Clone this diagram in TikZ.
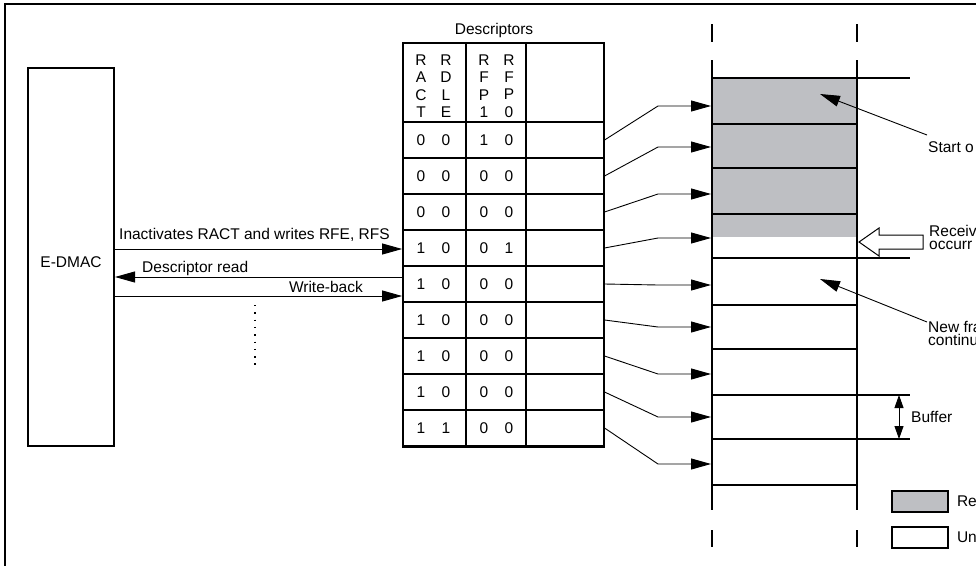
\documentclass[tikz,border=0pt]{standalone}
\usepackage{fontspec}
\setmainfont{Liberation Sans}
\usepackage{xcolor}
\usetikzlibrary{arrows.meta,positioning}
\definecolor{rxgray}{RGB}{190,191,195}

\begin{document}
\begin{tikzpicture}[x=1pt,y=-1pt,
      font=\fontsize{15.5}{17.4}\selectfont,
      outerframe/.style={line width=1.8pt},
      wall/.style={line width=2pt},
      thinrule/.style={line width=1.1pt},
      cell/.style={draw,thinrule,inner sep=0pt,minimum width=201pt,minimum height=36pt},
      bit/.style={inner sep=0pt},
      txt/.style={inner sep=0pt,anchor=base west},
      arrow/.style={-{Triangle[length=20pt,width=11pt]},line width=0.9pt},
      dblarrow/.style={{Triangle[length=13pt,width=9pt]}-{Triangle[length=13pt,width=9pt]},line width=0.9pt},
      keybox/.style={draw,line width=1.6pt,inner sep=0pt,minimum width=56pt,minimum height=21pt}]
    \useasboundingbox (0,0) rectangle (976,565);
    \draw[outerframe] (5,4) rectangle (1000,600);

    % E-DMAC side
    \node[draw,wall,minimum width=86pt,minimum height=378pt] (edmac) at (71,257) {};
    \node[txt,anchor=base] (edmaclbl) at (71,267) {E-DMAC};

    % descriptor table
    \foreach \n/\a/\b/\c/\d in {1/0/0/1/0,2/0/0/0/0,3/0/0/0/0,4/1/0/0/1,5/1/0/0/0,
                               6/1/0/0/0,7/1/0/0/0,8/1/0/0/0,9/1/1/0/0}{
      \node[cell] (row\n) at (503.5,{104+36*\n}) {};
      \node[bit] (row\n-1) at (421,{104+36*\n}) {\a};
      \node[bit] (row\n-2) at (446,{104+36*\n}) {\b};
      \node[bit] (row\n-3) at (484,{104+36*\n}) {\c};
      \node[bit] (row\n-4) at (509,{104+36*\n}) {\d};
    }
    \node[bit,align=center] (hdract) at (421,86) {R\\A\\C\\T};
    \node[bit,align=center] (hdrdle) at (446,86) {R\\D\\L\\E};
    \node[bit,align=center] (hdrfp1) at (484,86) {R\\F\\P\\1};
    \node[bit,align=center] (hdrfp0) at (509,86) {R\\F\\P\\0};
    \draw[thinrule] (466,43) -- (466,447);
    \draw[thinrule] (526,43) -- (526,447);
    \node[draw,outerframe,minimum width=201pt,minimum height=404pt] (desc) at (503.5,245) {};
    \node[txt,anchor=base] (desclbl) at (494,34) {Descriptors};

    % E-DMAC <-> descriptors
    \coordinate (inact) at (0,249);
    \coordinate (rdline) at (0,277);
    \coordinate (wbline) at (0,296);
    \draw[arrow] (edmac.east |- inact) -- (desc.west |- inact);
    \draw[arrow] (desc.west |- rdline) -- (edmac.east |- rdline);
    \draw[arrow] (edmac.east |- wbline) -- (desc.west |- wbline);
    \node[txt] (inactlbl) at (119,239) {Inactivates RACT and writes RFE, RFS};
    \node[txt] (rdlbl) at (142,272) {Descriptor read};
    \node[txt,anchor=base east] (wblbl) at (363,292) {Write-back};
    \draw[line width=1.4pt,dash pattern=on 1.4pt off 5.9pt] (255,305) -- (255,370);

    % buffer area
    \fill[rxgray] (712,78) rectangle (857,237);
    \foreach \y in {124,168,214,305,349,485}
      \draw[thinrule] (712,\y) -- (857,\y);
    \foreach \y in {78,258,395,439}
      \draw[thinrule] (712,\y) -- (910,\y);
    \foreach \x in {712,857}{
      \draw[wall] (\x,60) -- (\x,510);
      \draw[wall] (\x,24) -- (\x,42);
      \draw[wall] (\x,530) -- (\x,547);
    }

    % descriptor -> buffer pointers
    \foreach \n/\y in {1/106,2/147,3/194,4/238,5/285,6/327,7/374,8/417,9/464}{
      \coordinate (slot\n) at (711,\y);
      \draw[arrow] (row\n.east) -- ([xshift=-53pt]slot\n) -- (slot\n);
    }

    % notes on the right
    \coordinate (softip) at (820,94);
    \coordinate (sofend) at (927,135);
    \draw[arrow] (sofend) -- (softip);
    \node[txt] (soflbl) at (928,152) {Start o};
    \draw[line width=1pt,fill=white] (859,242) -- (879,228) -- (879,235) -- (923,235)
      -- (923,249) -- (879,249) -- (879,256) -- cycle;
    \node[txt] (rx1) at (929,236) {Receiv};
    \node[txt] (rx2) at (929,249) {occurr};
    \coordinate (nftip) at (820,279);
    \coordinate (nfend) at (927,322);
    \draw[arrow] (nfend) -- (nftip);
    \node[txt] (nf1) at (928,332) {New fra};
    \node[txt] (nf2) at (928,345) {continu};
    \coordinate (buftop) at (899,395);
    \coordinate (bufbot) at (899,439);
    \draw[dblarrow] (buftop) -- (bufbot);
    \node[txt] (buflbl) at (911,422) {Buffer};

    % legend
    \node[keybox,fill=rxgray] (keyrx) at (920,501.5) {};
    \node[bit,right=8pt of keyrx] (keyrxlbl) {Re};
    \node[keybox] (keyfree) at (920,537.5) {};
    \node[bit,right=8pt of keyfree] (keyfreelbl) {Un};
  \end{tikzpicture}
\end{document}
